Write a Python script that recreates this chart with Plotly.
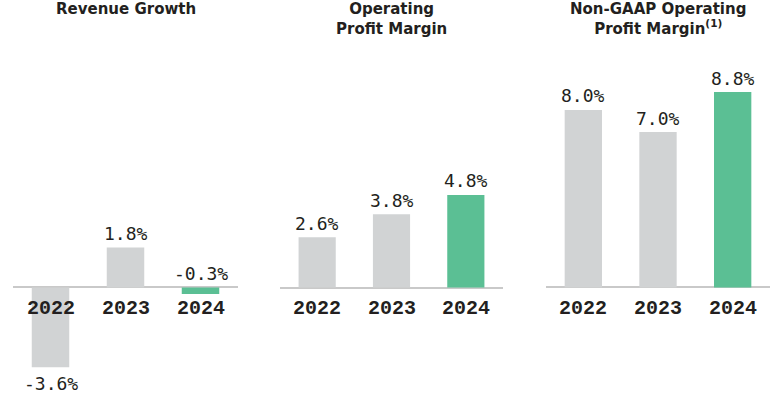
import plotly.graph_objects as go

years = ["2022", "2023", "2024"]
revenue_growth = [-3.6, 1.8, -0.3]
op_margin = [2.6, 3.8, 4.8]
nongaap_margin = [8.0, 7.0, 8.8]
titles = ["Revenue Growth", "Operating<br>Profit Margin", "Non-GAAP Operating<br>Profit Margin<sup>(1)</sup>"]

GRAY = "#d1d3d4"
GREEN = "#5bbf94"
TEXT = "#231f20"
W, H = 770, 396

panels = [
    (revenue_growth, [13, 238], [-4.89, 12.95]),
    (op_margin, [280, 503], [-5.62, 14.9]),
    (nongaap_margin, [546, 770], [-4.89, 12.95]),
]

fig = go.Figure()
annotations = []
for i, (vals, xpx, yr) in enumerate(panels):
    n = "" if i == 0 else str(i + 1)
    xa, ya = "x" + n, "y" + n
    fig.add_trace(go.Bar(
        x=years, y=vals, xaxis=xa, yaxis=ya, width=0.5,
        marker=dict(color=[GRAY, GRAY, GREEN], line=dict(width=0)),
        hoverinfo="skip", showlegend=False,
    ))
    fig.layout["xaxis" + n] = dict(type="category", domain=[xpx[0] / W, xpx[1] / W],
                                   range=[-0.5, 2.5],
                                   showticklabels=False, showgrid=False, zeroline=False,
                                   showline=False, anchor=ya, fixedrange=True)
    fig.layout["yaxis" + n] = dict(domain=[0, 1], range=yr, showticklabels=False,
                                   showgrid=False, zeroline=True, zerolinecolor="#c9c9c9",
                                   zerolinewidth=2, showline=False, anchor=xa, fixedrange=True)
    for j, (y, v) in enumerate(zip(years, vals)):
        if v < -1:
            yy, ys = v, -16
        else:
            yy, ys = max(v, 0), 14
        annotations.append(dict(x=j, y=yy, xref=xa, yref=ya, text=f"{v:.1f}%",
                                showarrow=False, xanchor="center", yanchor="middle", yshift=ys,
                                font=dict(family="DejaVu Sans Mono", size=18, color=TEXT)))
        annotations.append(dict(x=j, y=0, xref=xa, yref=ya, text=f"<b>{y}</b>",
                                showarrow=False, xanchor="center", yanchor="middle", yshift=-21,
                                font=dict(family="Liberation Mono", size=20, color=TEXT)))
    annotations.append(dict(x=(xpx[0] + xpx[1]) / 2 / W, y=1.0, xref="paper", yref="paper",
                            text=f"<b>{titles[i]}</b>", showarrow=False, xanchor="center",
                            yanchor="top", yshift=2,
                            font=dict(family="DejaVu Sans", size=15, color=TEXT)))

fig.update_layout(width=W, height=H, margin=dict(l=0, r=0, t=0, b=0),
                  paper_bgcolor="white", plot_bgcolor="white", annotations=annotations)
fig.write_html("out.html", config={"displayModeBar": False},
               post_script="document.body.style.margin='0';document.body.style.padding='0';")
